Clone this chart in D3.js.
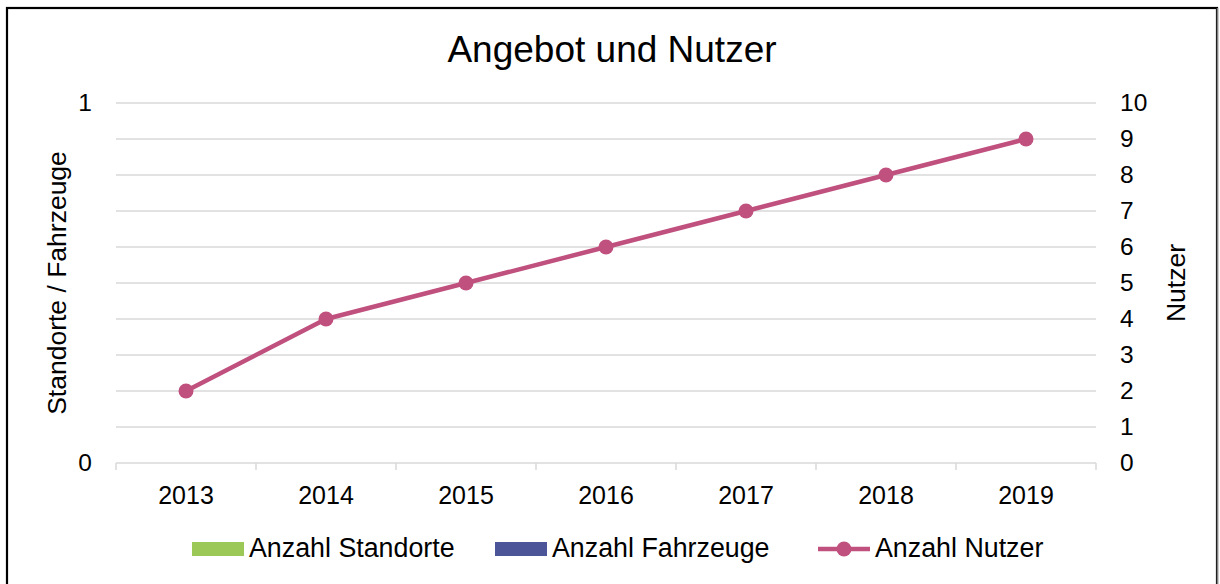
<!DOCTYPE html>
<html><head><meta charset="utf-8">
<script src="https://cdn.jsdelivr.net/npm/d3@7"></script>
<style>
html,body{margin:0;padding:0;background:#fff;}
svg{display:block;font-family:"Liberation Sans",Arial,sans-serif;}
</style></head>
<body><svg id="c" width="1220" height="584"></svg>
<script>
const years = ["2013","2014","2015","2016","2017","2018","2019"];
const standorte = [0,0,0,0,0,0,0];
const fahrzeuge = [0,0,0,0,0,0,0];
const nutzer = [2,4,5,6,7,8,9];
const leftTicks = [0,1];
const rightTicks = [0,1,2,3,4,5,6,7,8,9,10];
const seriesNames = ["Anzahl Standorte","Anzahl Fahrzeuge","Anzahl Nutzer"];
const colors = ["#9BC856","#4B5597","#C0507E"];

const FF = "Liberation Sans, Arial, sans-serif";
const svg = d3.select("#c");
// frame
svg.append("rect").attr("x",7).attr("y",8).attr("width",1210).attr("height",590)
  .attr("fill","none").attr("stroke","#000").attr("stroke-width",2.2);
svg.append("line").attr("x1",1217.5).attr("x2",1217.5).attr("y1",8).attr("y2",584)
  .attr("stroke","#7f7f7f").attr("stroke-width",1.5);

const L=116,R=1096,T=103,B=463;
const x = d3.scaleBand().domain(years).range([L,R]);
const yL = d3.scaleLinear().domain([0,1]).range([B,T]);
const yR = d3.scaleLinear().domain([0,10]).range([B,T]);

// grid
svg.append("g").selectAll("line").data(rightTicks.filter(d=>d>0)).join("line")
  .attr("x1",L).attr("x2",R).attr("y1",d=>yR(d)).attr("y2",d=>yR(d))
  .attr("stroke","#d9d9d9").attr("stroke-width",1.5);

// bars (empty values)
const sub = d3.scaleBand().domain([0,1]).range([0,x.bandwidth()]).paddingInner(0).paddingOuter(1);
[standorte,fahrzeuge].forEach((arr,i)=>{
  svg.append("g").selectAll("rect").data(arr).join("rect")
    .attr("x",(d,j)=>x(years[j])+sub(i)).attr("width",sub.bandwidth())
    .attr("y",d=>yL(d)).attr("height",d=>B-yL(d)).attr("fill",colors[i]);
});

// x axis
const xa = svg.append("g").attr("transform",`translate(0,${B})`)
  .call(d3.axisBottom(x).tickSize(0).tickPadding(0));
xa.select(".domain").attr("stroke","#d9d9d9").attr("stroke-width",1.5).attr("d",`M${L},0H${R}`);
xa.selectAll("text").attr("font-size",25).attr("fill","#000").attr("font-family",FF)
  .attr("y",41).attr("dy",null);
svg.append("g").selectAll("line").data(years.concat(["end"])).join("line")
  .attr("x1",(d,i)=>L+i*x.step()).attr("x2",(d,i)=>L+i*x.step())
  .attr("y1",B).attr("y2",B+7).attr("stroke","#d9d9d9").attr("stroke-width",1.5);

// left axis labels
const la = svg.append("g").attr("transform",`translate(${L},0)`)
  .call(d3.axisLeft(yL).tickValues(leftTicks).tickFormat(d3.format("d")).tickSize(0).tickPadding(24));
la.select(".domain").remove();
la.selectAll("text").attr("font-size",24.5).attr("fill","#000").attr("font-family",FF);

// right axis labels
const ra = svg.append("g").attr("transform",`translate(${R},0)`)
  .call(d3.axisRight(yR).tickValues(rightTicks).tickSize(0).tickPadding(24));
ra.select(".domain").remove();
ra.selectAll("text").attr("font-size",24.5).attr("fill","#000").attr("font-family",FF);

// line
const line = d3.line().x((d,i)=>x(years[i])+x.bandwidth()/2).y(d=>yR(d));
svg.append("path").datum(nutzer).attr("d",line).attr("fill","none")
  .attr("stroke",colors[2]).attr("stroke-width",4.5).attr("stroke-linejoin","round");
svg.append("g").selectAll("circle").data(nutzer).join("circle")
  .attr("cx",(d,i)=>x(years[i])+x.bandwidth()/2).attr("cy",d=>yR(d)).attr("r",7.5).attr("fill",colors[2]);

// title
svg.append("text").attr("x",612).attr("y",62).attr("text-anchor","middle")
  .attr("font-size",37).text("Angebot und Nutzer");
// axis titles
svg.append("text").attr("transform",`translate(66,${(T+B)/2}) rotate(-90)`).attr("text-anchor","middle")
  .attr("font-size",26.5).text("Standorte / Fahrzeuge");
svg.append("text").attr("transform",`translate(1185,${(T+B)/2}) rotate(-90)`).attr("text-anchor","middle")
  .attr("font-size",26.5).text("Nutzer");

// legend
const legX=[192,495,818];
const lg = svg.append("g");
seriesNames.forEach((n,i)=>{
  if(i<2){
    lg.append("rect").attr("x",legX[i]).attr("y",542).attr("width",52).attr("height",14).attr("fill",colors[i]);
  } else {
    lg.append("line").attr("x1",legX[i]).attr("x2",legX[i]+52).attr("y1",549).attr("y2",549)
      .attr("stroke",colors[i]).attr("stroke-width",4.5);
    lg.append("circle").attr("cx",legX[i]+26).attr("cy",549).attr("r",7.5).attr("fill",colors[i]);
  }
  lg.append("text").attr("x",legX[i]+57).attr("y",557).attr("font-size",26.8).text(n);
});
</script></body></html>
